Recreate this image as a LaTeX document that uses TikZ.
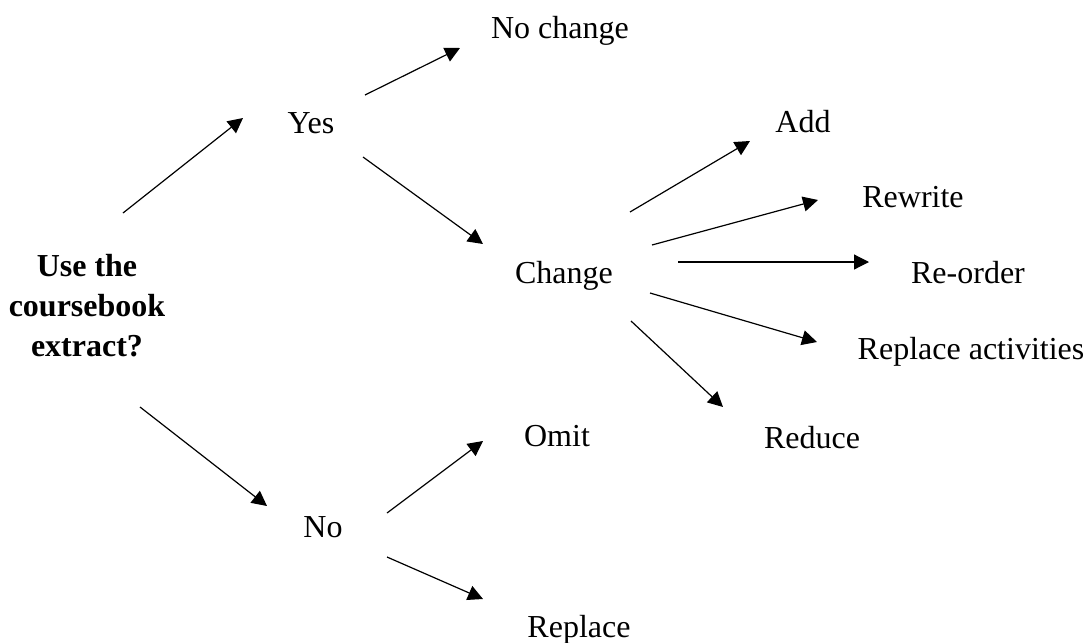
\documentclass[tikz,border=0pt]{standalone}
\usepackage{fontspec}
\setmainfont{Liberation Serif}
\usetikzlibrary{arrows.meta}

\tikzset{
	choice/.style={anchor=base, inner sep=0pt, font=\fontsize{16pt}{20pt}\selectfont},
	question/.style={align=center, inner sep=0pt, font=\fontsize{16pt}{20pt}\selectfont\bfseries},
	branch/.style={-{Triangle[length=7.5pt,width=7.5pt]}, line width=0.6pt}
}

\begin{document}
\begin{tikzpicture}[x=0.5pt, y=-0.5pt]
		\useasboundingbox (0,0) rectangle (1088,643);
		
		\node[question] (use) at (87,306) {Use the\\coursebook\\extract?};
		
		\node[choice] (yes) at (311,133) {Yes};
		\node[choice] (no) at (323,537) {No};
		
		\node[choice] (nochange) at (560,38) {No change};
		\node[choice] (change) at (564,283) {Change};
		\node[choice] (omit) at (557,446) {Omit};
		\node[choice] (replace) at (579,637) {Replace};
		
		\node[choice] (add) at (803,132) {Add};
		\node[choice] (rewrite) at (913,207) {Rewrite};
		\node[choice] (reorder) at (968,283) {Re-order};
		\node[choice] (repact) at (971,359) {Replace activities};
		\node[choice] (reduce) at (812,448) {Reduce};
		
		\draw[branch] ([shift={(36,-93)}]use.center) -- ([shift={(-68,-15)}]yes.base);
		\draw[branch] ([shift={(53,101)}]use.center) -- ([shift={(-56,-31)}]no.base);
		
		\draw[branch] ([shift={(54,-38)}]yes.base) -- ([shift={(-100,10)}]nochange.base);
		\draw[branch] ([shift={(52,24)}]yes.base) -- ([shift={(-81,-39)}]change.base);
		
		\draw[branch] ([shift={(66,-71)}]change.base) -- ([shift={(-53,9)}]add.base);
		\draw[branch] ([shift={(88,-38)}]change.base) -- ([shift={(-95,-7)}]rewrite.base);
		\draw[branch] ([shift={(114,-21)}]change.base) -- ([shift={(-99,-21)}]reorder.base);
		\draw[branch] ([shift={(86,10)}]change.base) -- ([shift={(-154,-17)}]repact.base);
		\draw[branch] ([shift={(67,38)}]change.base) -- ([shift={(-89,-41)}]reduce.base);
		
		\draw[branch] ([shift={(64,-24)}]no.base) -- ([shift={(-74,-5)}]omit.base);
		\draw[branch] ([shift={(64,20)}]no.base) -- ([shift={(-96,-38)}]replace.base);
	\end{tikzpicture}
\end{document}
